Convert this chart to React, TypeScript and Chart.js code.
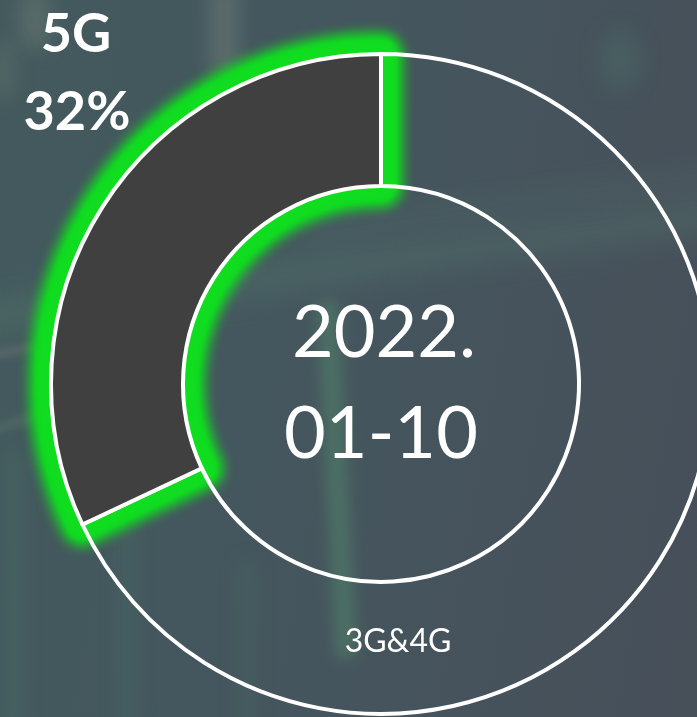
import React, { useEffect, useRef } from "react";
import { Chart, registerables } from "chart.js";

Chart.register(...registerables);

const categories = ["3G&4G", "5G"];
const shares = [68, 32];
const centerLines = ["2022.", "01-10"];
const highlightIndex = 1;

const W = 697;
const H = 717;
const CANVAS_W = 762;
const CANVAS_H = 768;

const FONT = "Lato, 'Open Sans', 'Noto Sans', sans-serif";

const glowPlugin = {
  id: "glow",
  beforeDatasetsDraw(chart: any) {
    const meta = chart.getDatasetMeta(0);
    const arc = meta.data[highlightIndex];
    if (!arc) return;
    const p = arc.getProps(["x", "y", "startAngle", "endAngle", "innerRadius", "outerRadius"], true);
    const ctx = chart.ctx;
    const path = () => {
      ctx.beginPath();
      ctx.arc(p.x, p.y, p.outerRadius, p.startAngle, p.endAngle);
      ctx.arc(p.x, p.y, p.innerRadius, p.endAngle, p.startAngle, true);
      ctx.closePath();
    };
    ctx.save();
    ctx.strokeStyle = "#10dc20";
    ctx.lineJoin = "round";
    ctx.filter = "blur(6px)";
    ctx.lineWidth = 44;
    path();
    ctx.stroke();
    ctx.filter = "blur(2px)";
    ctx.lineWidth = 30;
    path();
    ctx.stroke();
    ctx.restore();
  },
};

const labelPlugin = {
  id: "labels",
  afterDraw(chart: any) {
    const meta = chart.getDatasetMeta(0);
    const arc = meta.data[0];
    if (!arc) return;
    const cx = arc.x;
    const cy = arc.y;
    const ctx = chart.ctx;
    ctx.save();
    ctx.fillStyle = "#ffffff";
    ctx.textAlign = "center";
    ctx.textBaseline = "alphabetic";
    // center text
    ctx.font = `400 72px ${FONT}`;
    ctx.fillText(centerLines[0], cx + 3, cy - 27);
    ctx.fillText(centerLines[1], cx, cy + 74);
    // highlighted label
    ctx.font = `700 54px ${FONT}`;
    ctx.fillText(categories[highlightIndex], cx - 305, cy - 332);
    ctx.fillText(`${shares[highlightIndex]}%`, cx - 304, cy - 254);
    // other label
    ctx.font = `400 32px ${FONT}`;
    ctx.fillText(categories[0], cx + 17, cy + 268);
    ctx.restore();
  },
};

export default function App() {
  const ref = useRef<HTMLCanvasElement | null>(null);

  useEffect(() => {
    if (!ref.current) return;
    const chart = new Chart(ref.current, {
      type: "doughnut",
      data: {
        labels: categories,
        datasets: [
          {
            data: shares,
            backgroundColor: ["rgba(0,0,0,0)", "#404040"],
            borderColor: ["#ffffff", "#ffffff"],
            borderWidth: 4,
            borderJoinStyle: "miter",
            hoverOffset: 0,
          } as any,
        ],
      },
      options: {
        responsive: false,
        animation: false,
        devicePixelRatio: 1,
        radius: 330,
        cutout: "60%",
        rotation: 0,
        events: [],
        layout: { padding: 0 },
        plugins: {
          legend: { display: false },
          tooltip: { enabled: false },
        },
      } as any,
      plugins: [glowPlugin, labelPlugin],
    });
    return () => chart.destroy();
  }, []);

  const streak = (style: React.CSSProperties): React.CSSProperties => ({
    position: "absolute",
    filter: "blur(10px)",
    borderRadius: 20,
    ...style,
  });

  return (
    <div
      style={{
        position: "fixed",
        left: 0,
        top: 0,
        width: W,
        height: H,
        overflow: "hidden",
        background: "linear-gradient(100deg, #435a5d 0%, #44575e 35%, #46535c 70%, #474f59 100%)",
      }}
    >
      {/* background streaks */}
      <div style={streak({ left: -40, top: 250, width: 800, height: 30, background: "rgba(90,140,115,0.25)", transform: "rotate(-8deg)", filter: "blur(14px)" })} />
      <div style={streak({ left: 300, top: 190, width: 500, height: 16, background: "rgba(90,140,115,0.18)", transform: "rotate(-8deg)", filter: "blur(12px)" })} />
      <div style={streak({ left: 326, top: 300, width: 22, height: 360, background: "rgba(85,150,110,0.4)", transform: "rotate(-3deg)", filter: "blur(7px)" })} />
      <div style={streak({ left: 210, top: -20, width: 28, height: 100, background: "rgba(140,150,135,0.35)" })} />
      <div style={streak({ left: 20, top: -10, width: 30, height: 60, background: "rgba(140,150,135,0.3)" })} />
      <div style={streak({ left: -5, top: 40, width: 18, height: 60, background: "rgba(130,140,125,0.3)" })} />
      <div style={streak({ left: 600, top: 30, width: 40, height: 60, background: "rgba(80,130,110,0.25)" })} />
      <div style={streak({ left: 5, top: 450, width: 16, height: 300, background: "rgba(80,130,110,0.25)" })} />
      <div style={streak({ left: 120, top: 520, width: 14, height: 220, background: "rgba(80,130,110,0.25)" })} />
      <div style={streak({ left: 240, top: 560, width: 14, height: 200, background: "rgba(80,130,110,0.2)" })} />
      <div style={streak({ left: -30, top: 345, width: 120, height: 6, background: "rgba(150,150,140,0.35)", transform: "rotate(-10deg)", filter: "blur(4px)" })} />
      <div style={streak({ left: -30, top: 415, width: 120, height: 6, background: "rgba(120,160,130,0.3)", transform: "rotate(-18deg)", filter: "blur(4px)" })} />
      <canvas
        ref={ref}
        width={CANVAS_W}
        height={CANVAS_H}
        style={{ position: "absolute", left: 0, top: 0, width: CANVAS_W, height: CANVAS_H }}
      />
    </div>
  );
}
